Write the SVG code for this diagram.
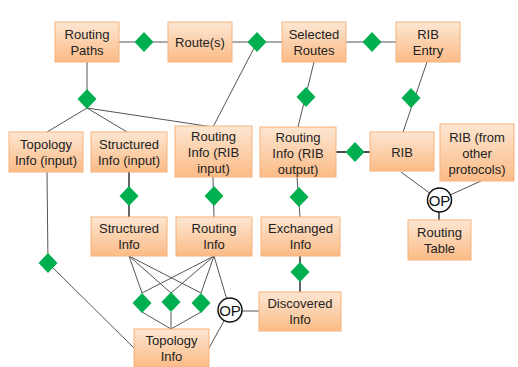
<svg xmlns="http://www.w3.org/2000/svg" width="518" height="367" viewBox="0 0 518 367">
<defs>
<linearGradient id="g" x1="0" y1="0" x2="0" y2="1">
<stop offset="0" stop-color="#fde6d2"/>
<stop offset="1" stop-color="#fbbb86"/>
</linearGradient>
</defs>
<style>
.b{fill:url(#g);stroke:#f7b27a;stroke-width:1}
.t{font-family:"Liberation Sans",Arial,sans-serif;font-size:13px;fill:#222;text-anchor:middle}
.o{font-family:"Liberation Sans",Arial,sans-serif;font-size:15px;fill:#111;text-anchor:middle}
.d{fill:#00b050}
.l{stroke:#555;stroke-width:1;fill:none}
.k{stroke:#111;stroke-width:1.3;fill:none}
.op{fill:#fff;stroke:#111;stroke-width:1.5}
</style>
<rect width="518" height="367" fill="#fff"/>
<g id="connectors">
<line class="l" x1="119" y1="42" x2="168" y2="42"/>
<line class="l" x1="232" y1="42" x2="282" y2="42"/>
<line class="l" x1="346" y1="42" x2="396" y2="42"/>
<line class="l" x1="87" y1="62" x2="87" y2="99"/>
<line class="l" x1="87" y1="108" x2="47" y2="132"/>
<line class="l" x1="87" y1="108" x2="127" y2="132"/>
<line class="l" x1="87" y1="108" x2="213" y2="127"/>
<line class="l" x1="254" y1="48" x2="213" y2="127"/>
<line class="l" x1="314" y1="62" x2="298" y2="127"/>
<line class="l" x1="427" y1="62" x2="403" y2="132"/>
<line class="k" x1="129" y1="172" x2="129" y2="217"/>
<line class="l" x1="213" y1="177" x2="214" y2="217"/>
<line class="k" x1="336" y1="152" x2="370" y2="152"/>
<line class="l" x1="297" y1="177" x2="300" y2="217"/>
<line class="k" x1="300" y1="256" x2="300" y2="292"/>
<line class="l" x1="401" y1="172" x2="439" y2="200"/>
<line class="l" x1="481" y1="181" x2="439" y2="200"/>
<line class="k" x1="439" y1="200" x2="439" y2="220"/>
<line class="l" x1="47" y1="172" x2="48" y2="263"/>
<line class="l" x1="48" y1="263" x2="134" y2="348"/>
<line class="l" x1="129" y1="256" x2="142" y2="293"/>
<line class="l" x1="129" y1="256" x2="171" y2="293"/>
<line class="l" x1="129" y1="256" x2="201" y2="293"/>
<line class="l" x1="214" y1="256" x2="142" y2="293"/>
<line class="l" x1="214" y1="256" x2="171" y2="293"/>
<line class="l" x1="214" y1="256" x2="201" y2="293"/>
<line class="l" x1="214" y1="256" x2="230" y2="310"/>
<line class="l" x1="142" y1="312" x2="171" y2="329"/>
<line class="l" x1="171" y1="312" x2="171" y2="329"/>
<line class="l" x1="201" y1="312" x2="171" y2="329"/>
<line class="l" x1="230" y1="311" x2="259" y2="311"/>
<line class="l" x1="230" y1="310" x2="209" y2="348"/>
</g>
<g id="diamonds">
<polygon class="d" points="144,32 153.5,42 144,52 134.5,42"/>
<polygon class="d" points="257,32 266.5,42 257,52 247.5,42"/>
<polygon class="d" points="372,32 381.5,42 372,52 362.5,42"/>
<polygon class="d" points="87,89 96.5,99 87,109 77.5,99"/>
<polygon class="d" points="306,87 315.5,97 306,107 296.5,97"/>
<polygon class="d" points="411,88 420.5,98 411,108 401.5,98"/>
<polygon class="d" points="355,142 364.5,152 355,162 345.5,152"/>
<polygon class="d" points="129,186 138.5,196 129,206 119.5,196"/>
<polygon class="d" points="214,186 223.5,196 214,206 204.5,196"/>
<polygon class="d" points="299,187 308.5,197 299,207 289.5,197"/>
<polygon class="d" points="300,262 309.5,272 300,282 290.5,272"/>
<polygon class="d" points="48,253 57.5,263 48,273 38.5,263"/>
<polygon class="d" points="142,293 151.5,303 142,313 132.5,303"/>
<polygon class="d" points="171,292 180.5,302 171,312 161.5,302"/>
<polygon class="d" points="201,293 210.5,303 201,313 191.5,303"/>
</g>
<g id="op1"><circle class="op" cx="439.5" cy="200" r="12"/><text class="o" x="439.5" y="205.5">OP</text></g>
<g id="op2"><circle class="op" cx="230" cy="310" r="12"/><text class="o" x="230" y="315.5">OP</text></g>
<g id="routing-paths"><rect class="b" x="55" y="22" width="64" height="40"/><text class="t" x="87" y="38.5">Routing</text><text class="t" x="87" y="54.5">Paths</text></g>
<g id="routes"><rect class="b" x="168" y="22" width="64" height="40"/><text class="t" x="200" y="46.5">Route(s)</text></g>
<g id="selected-routes"><rect class="b" x="282" y="22" width="64" height="40"/><text class="t" x="314" y="38.5">Selected</text><text class="t" x="314" y="54.5">Routes</text></g>
<g id="rib-entry"><rect class="b" x="396" y="22" width="64" height="40"/><text class="t" x="428" y="38.5">RIB</text><text class="t" x="428" y="54.5">Entry</text></g>
<g id="topology-input"><rect class="b" x="9" y="132" width="74" height="40"/><text class="t" x="46" y="148.5">Topology</text><text class="t" x="46" y="164.5">Info (input)</text></g>
<g id="structured-input"><rect class="b" x="91" y="132" width="76" height="40"/><text class="t" x="129" y="148.5">Structured</text><text class="t" x="129" y="164.5">Info (input)</text></g>
<g id="routing-rib-input"><rect class="b" x="175" y="126" width="77" height="51"/><text class="t" x="213.5" y="140.5">Routing</text><text class="t" x="213.5" y="156.5">Info (RIB</text><text class="t" x="213.5" y="172.5">input)</text></g>
<g id="routing-rib-output"><rect class="b" x="260" y="127" width="76" height="50"/><text class="t" x="298" y="141.5">Routing</text><text class="t" x="298" y="157.5">Info (RIB</text><text class="t" x="298" y="173.5">output)</text></g>
<g id="rib"><rect class="b" x="370" y="132" width="64" height="39"/><text class="t" x="402" y="156.5">RIB</text></g>
<g id="rib-other"><rect class="b" x="440" y="124" width="74" height="57"/><text class="t" x="477" y="141.5">RIB (from</text><text class="t" x="477" y="157.5">other</text><text class="t" x="477" y="173.5">protocols)</text></g>
<g id="structured-info"><rect class="b" x="91" y="217" width="76" height="39"/><text class="t" x="129" y="233">Structured</text><text class="t" x="129" y="249">Info</text></g>
<g id="routing-info"><rect class="b" x="176" y="217" width="76" height="39"/><text class="t" x="214" y="233">Routing</text><text class="t" x="214" y="249">Info</text></g>
<g id="exchanged-info"><rect class="b" x="261" y="217" width="79" height="39"/><text class="t" x="300.5" y="233">Exchanged</text><text class="t" x="300.5" y="249">Info</text></g>
<g id="routing-table"><rect class="b" x="408" y="220" width="63" height="40"/><text class="t" x="439.5" y="236.5">Routing</text><text class="t" x="439.5" y="252.5">Table</text></g>
<g id="discovered-info"><rect class="b" x="259" y="292" width="82" height="39"/><text class="t" x="300" y="308">Discovered</text><text class="t" x="300" y="324">Info</text></g>
<g id="topology-info"><rect class="b" x="134" y="329" width="75" height="38"/><text class="t" x="171.5" y="345">Topology</text><text class="t" x="171.5" y="361">Info</text></g>
</svg>
